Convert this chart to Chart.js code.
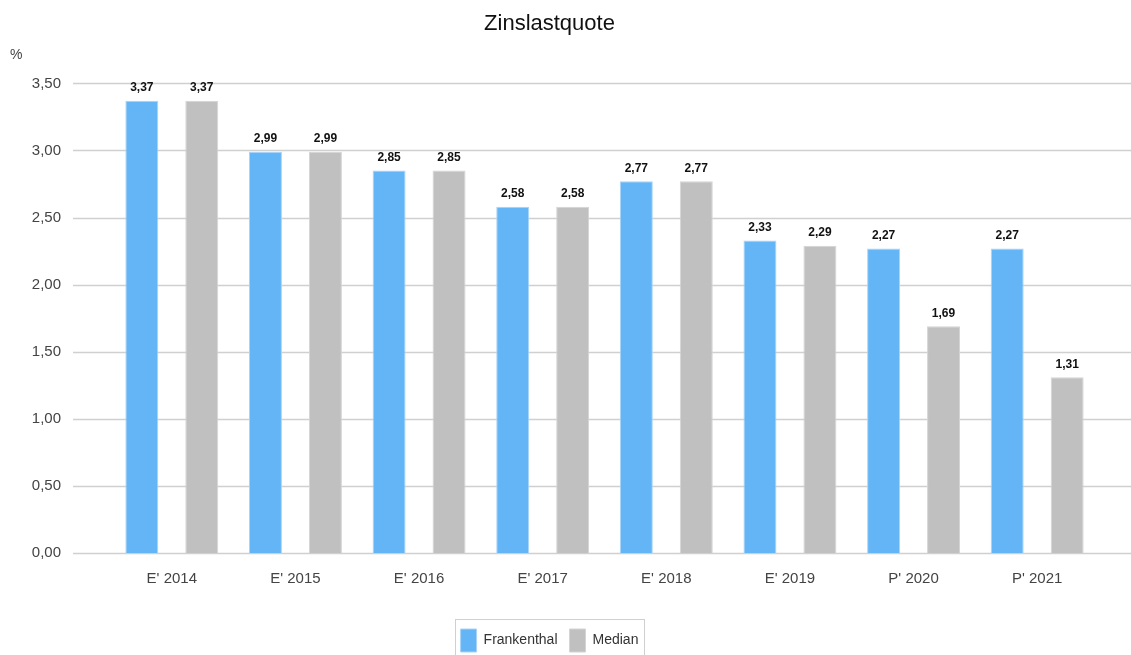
<!DOCTYPE html>
<html>
<head>
<meta charset="utf-8">
<script src="https://cdn.jsdelivr.net/npm/chart.js@4"></script>
<style>
  html, body { margin: 0; padding: 0; background: #fff; }
  #wrap { position: relative; width: 1131px; height: 655px; }
</style>
</head>
<body>
<div id="wrap"><canvas id="zinsChart" width="1131" height="655"></canvas></div>
<script>
const years       = ["E' 2014", "E' 2015", "E' 2016", "E' 2017", "E' 2018", "E' 2019", "P' 2020", "P' 2021"];
const frankenthal = [3.37, 2.99, 2.85, 2.58, 2.77, 2.33, 2.27, 2.27];
const median      = [3.37, 2.99, 2.85, 2.58, 2.77, 2.29, 1.69, 1.31];
const yTicks      = [0, 0.5, 1, 1.5, 2, 2.5, 3, 3.5];

const FONT = "'Liberation Sans Narrow', 'Liberation Sans', Arial, sans-serif";
const fmt = v => v.toFixed(2).replace('.', ',');

// grid lines run wider than the bar area, so draw them ourselves
const wideGrid = {
    id: 'wideGrid',
    beforeDatasetsDraw(chart) {
        const ctx = chart.ctx, y = chart.scales.y;
        ctx.save();
        ctx.strokeStyle = '#d0d0d0';
        ctx.lineWidth = 1.5;
        yTicks.forEach(t => {
            const py = Math.round(y.getPixelForValue(t)) + 0.5;
            ctx.beginPath();
            ctx.moveTo(73, py);
            ctx.lineTo(chart.width, py);
            ctx.stroke();
        });
        ctx.fillStyle = '#444';
        ctx.font = '14px ' + FONT;
        ctx.textAlign = 'left';
        ctx.textBaseline = 'middle';
        ctx.fillText('%', 10, 55);
        ctx.restore();
    }
};

const valueLabels = {
    id: 'valueLabels',
    afterDatasetsDraw(chart) {
        const ctx = chart.ctx;
        ctx.save();
        ctx.fillStyle = '#111';
        ctx.font = 'bold 12px ' + FONT;
        ctx.textAlign = 'center';
        ctx.textBaseline = 'bottom';
        chart.data.datasets.forEach((ds, i) => {
            chart.getDatasetMeta(i).data.forEach((bar, j) => {
                ctx.fillText(fmt(ds.data[j]), bar.x, bar.y - 7);
            });
        });
        ctx.restore();
    }
};

// thin frame around the legend items
const legendBox = {
    id: 'legendBox',
    afterDraw(chart) {
        const boxes = chart.legend.legendHitBoxes;
        if (!boxes || !boxes.length) return;
        const first = boxes[0], last = boxes[boxes.length - 1];
        const left = Math.round(first.left - 6) + 0.5;
        const right = Math.round(last.left + last.width + 6) + 0.5;
        const top = Math.round(first.top - 10) + 0.5;
        const ctx = chart.ctx;
        ctx.save();
        ctx.strokeStyle = '#d0d0d0';
        ctx.lineWidth = 1;
        ctx.strokeRect(left, top, right - left, chart.height - top + 5);
        ctx.restore();
    }
};

new Chart(document.getElementById('zinsChart').getContext('2d'), {
    type: 'bar',
    data: {
        labels: years,
        datasets: [
            {
                label: 'Frankenthal',
                data: frankenthal,
                backgroundColor: '#64b5f6',
                borderColor: '#a8d4fa',
                borderWidth: 1,
                barPercentage: 0.55,
                categoryPercentage: 0.97
            },
            {
                label: 'Median',
                data: median,
                backgroundColor: '#c0c0c0',
                borderColor: '#d4d4d4',
                borderWidth: 1,
                barPercentage: 0.55,
                categoryPercentage: 0.97
            }
        ]
    },
    options: {
        responsive: false,
        animation: false,
        layout: { padding: { left: 0, right: 32, top: 0, bottom: -7 } },
        plugins: {
            title: {
                display: true,
                text: 'Zinslastquote',
                color: '#111',
                font: { family: FONT, size: 22, weight: 'normal' },
                padding: { top: 11, bottom: 46 }
            },
            legend: {
                position: 'bottom',
                labels: {
                    color: '#333',
                    font: { family: FONT, size: 14 },
                    boxWidth: 16,
                    boxHeight: 23,
                    padding: 12
                }
            },
            tooltip: { enabled: false }
        },
        scales: {
            x: {
                grid: { display: false },
                border: { display: false },
                afterFit: axis => { axis.height += 20; },
                ticks: { color: '#444', font: { family: FONT, size: 15 }, padding: 9 }
            },
            y: {
                min: 0,
                max: 3.5,
                afterBuildTicks: axis => { axis.ticks = yTicks.map(v => ({ value: v })); },
                afterFit: axis => { axis.width = 110; },
                grid: { display: false },
                border: { display: false },
                ticks: {
                    color: '#444',
                    font: { family: FONT, size: 15 },
                    padding: 41,
                    callback: v => fmt(v)
                }
            }
        }
    },
    plugins: [wideGrid, valueLabels, legendBox]
});
</script>
</body>
</html>
